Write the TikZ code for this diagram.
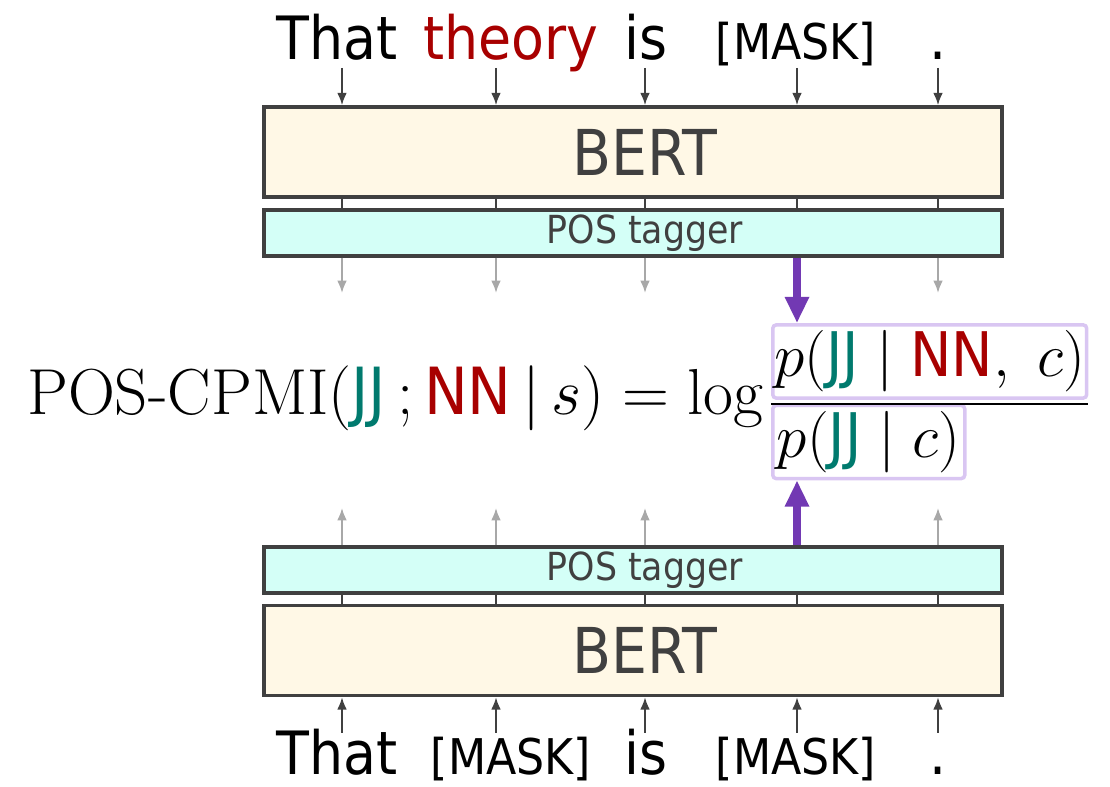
\RequirePackage{fix-cm}
\documentclass[tikz,border=0pt]{standalone}
\usepackage{amsmath}
\usepackage{fontspec}
\setsansfont{DejaVu Sans Condensed}
\usetikzlibrary{arrows.meta}
\definecolor{box-line}{HTML}{404040}
\definecolor{bert-bg}{HTML}{FFF8E6}
\definecolor{tagger-bg}{HTML}{D4FFF7}
\definecolor{out-gray}{HTML}{A8A8A8}
\definecolor{hl-purple}{HTML}{7239B3}
\definecolor{hl-box}{HTML}{D9C6F2}
\definecolor{tag-jj}{HTML}{007A6E}
\definecolor{tag-nn}{HTML}{A80000}

\begin{document}
\begin{tikzpicture}[
    model/.style={draw=box-line, line width=2pt, fill=bert-bg,
        minimum width=14.76cm, minimum height=1.8cm},
    tagger/.style={model, fill=tagger-bg, minimum height=0.92cm},
    modeltext/.style={text=box-line, inner sep=0pt,
        font=\sffamily\fontsize{36}{42}\selectfont},
    taggertext/.style={modeltext, font=\sffamily\fontsize{22}{26}\selectfont},
    word/.style={anchor=base, inner sep=0pt,
        font=\sffamily\fontsize{34}{40}\selectfont},
    maskword/.style={word, font=\sffamily\fontsize{28}{32}\selectfont},
    term/.style={draw=hl-box, line width=2pt, rounded corners=2pt, fill=white,
        anchor=west, minimum height=1.46cm, inner xsep=1pt,
        font=\fontsize{35}{42}\selectfont},
    feed/.style={draw=box-line, line width=1.1pt, -{Latex[length=7pt,width=5.5pt]}},
    readout/.style={feed, draw=out-gray},
    link/.style={draw=box-line, line width=1.1pt},
    pick/.style={draw=hl-purple, line width=4.5pt, -{Triangle[length=15pt,width=13pt]}}
  ]
  \useasboundingbox (0,0) rectangle (22.2,15.74);

  % input sentences
  \node[word] (top1) at (6.74,14.54) {That};
  \node[word, text=tag-nn] (top2) at (10.22,14.54) {theory};
  \node[word] (top3) at (12.92,14.54) {is};
  \node[maskword] (top4) at (15.92,14.54) {[MASK]};
  \node[word] (top5) at (18.76,14.54) {.};
  \node[word] (bot1) at (6.74,0.24) {That};
  \node[maskword] (bot2) at (10.22,0.24) {[MASK]};
  \node[word] (bot3) at (12.92,0.24) {is};
  \node[maskword] (bot4) at (15.92,0.24) {[MASK]};
  \node[word] (bot5) at (18.76,0.24) {.};

  % encoders
  \node[model] (bertA) at (12.66,12.7) {};
  \node[tagger] (posA) at (12.66,11.08) {};
  \node[tagger] (posB) at (12.66,4.34) {};
  \node[model] (bertB) at (12.66,2.73) {};
  \node[modeltext] (bertAtext) at (12.9,12.7) {BERT};
  \node[taggertext] (posAtext) at (12.9,11.08) {POS tagger};
  \node[taggertext] (posBtext) at (12.9,4.34) {POS tagger};
  \node[modeltext] (bertBtext) at (12.9,2.73) {BERT};

  % equation
  \node[anchor=base west, inner sep=0pt, font=\fontsize{37}{44}\selectfont]
      (lhs) at (0.54,7.44)
      {$\text{POS-CPMI}(\textsf{\color{tag-jj}JJ}\,;\textsf{\color{tag-nn}NN}\,|\,s)=\log$};
  \node[term, minimum width=6.24cm] (num) at (15.42,8.51)
      {$p(\textsf{\color{tag-jj}JJ}\mid\textsf{\color{tag-nn}NN},\;c)$};
  \node[term, minimum width=3.84cm] (den) at (15.42,6.90)
      {$p(\textsf{\color{tag-jj}JJ}\mid c)$};
  \draw[line width=1.3pt] ([yshift=-0.08cm]num.south west) -- ([yshift=-0.08cm]num.south east);

  \foreach \x [count=\i] in {6.84,9.92,12.90,15.94,18.76} {
    \coordinate (in\i) at (\x,14.38);
    \coordinate (up\i) at (\x,1.08);
    \draw[feed] (in\i) -- (bertA.north -| in\i);
    \draw[feed] (up\i) -- (bertB.south -| up\i);
    \draw[link] (bertA.south -| in\i) -- (posA.north -| in\i);
    \draw[link] (posB.south -| up\i) -- (bertB.north -| up\i);
  }
  \foreach \x [count=\i] in {6.84,9.92,12.90,18.76} {
    \coordinate (outA\i) at (\x,9.88);
    \coordinate (outB\i) at (\x,5.58);
    \draw[readout] (posA.south -| outA\i) -- (outA\i);
    \draw[readout] (posB.north -| outB\i) -- (outB\i);
  }
  \draw[pick] (posA.south -| in4) -- (num.north -| in4);
  \draw[pick] (posB.north -| up4) -- (den.south -| up4);
\end{tikzpicture}
\end{document}
